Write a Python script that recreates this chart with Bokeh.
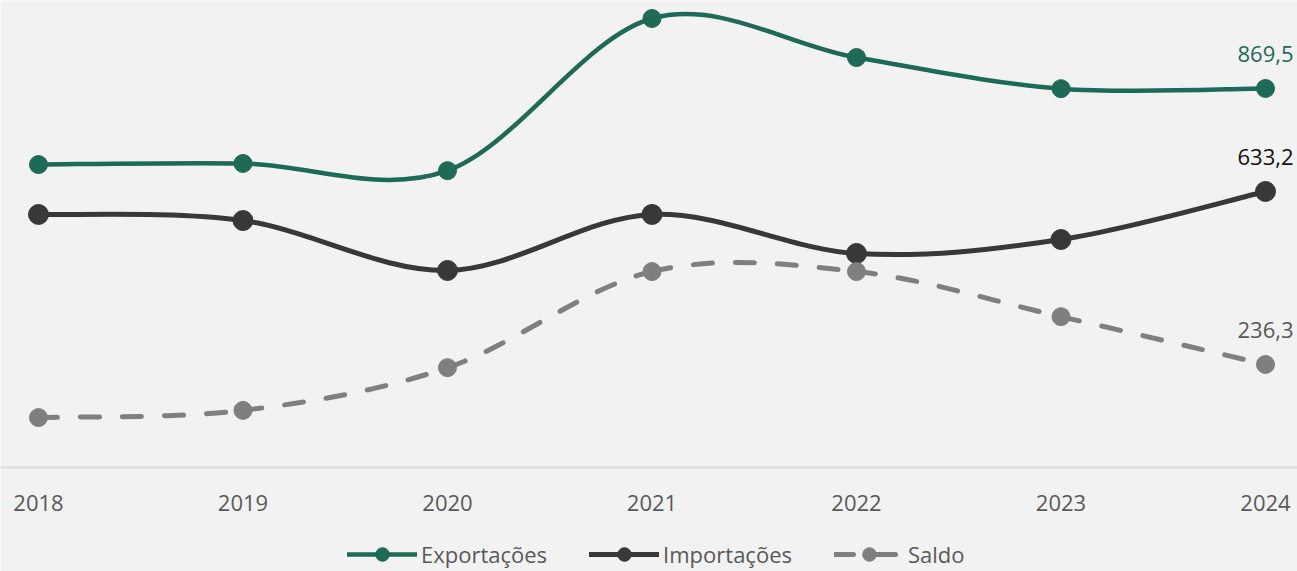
from bokeh.plotting import figure
from bokeh.models import Legend, LegendItem, ColumnDataSource, FixedTicker, Range1d
from bokeh.embed import file_html
from bokeh.resources import INLINE
from bokeh.core.properties import value

years = [2018, 2019, 2020, 2021, 2022, 2023, 2024]
exportacoes = [695.0, 697.5, 681.0, 1030.0, 940.5, 869.0, 869.5]
importacoes = [580.5, 566.5, 452.0, 580.5, 491.0, 523.0, 633.2]
saldo = [114.5, 131.0, 229.0, 449.5, 449.5, 346.0, 236.3]
labels = ["869,5", "633,2", "236,3"]

FONT = "Open Sans"
BG = "#f2f2f2"
W, H = 1297, 571

p = figure(width=W, height=H, output_backend="svg", toolbar_location=None,
           x_range=Range1d(2017.8142, 2024.1565), y_range=Range1d(-238.6, 1071.3),
           background_fill_color=BG, border_fill_color=BG,
           min_border_left=0, min_border_right=0, min_border_top=0, min_border_bottom=0,
           outline_line_color=None)
p.grid.visible = False
p.yaxis.visible = False

xa = p.xaxis[0]
xa.fixed_location = 0
xa.ticker = FixedTicker(ticks=years)
xa.axis_line_color = "#d9d9d9"
xa.axis_line_width = 2
xa.major_tick_line_color = None
xa.minor_tick_line_color = None
xa.major_label_text_font = FONT
xa.major_label_text_font_size = "22px"
xa.major_label_text_color = "#595959"
xa.major_label_standoff = 22


def smooth_segments(xs, ys):
    n = len(xs)
    segs = dict(x0=[], y0=[], x1=[], y1=[], cx0=[], cy0=[], cx1=[], cy1=[])
    for i in range(n - 1):
        p0 = (xs[max(i - 1, 0)], ys[max(i - 1, 0)])
        p1 = (xs[i], ys[i])
        p2 = (xs[i + 1], ys[i + 1])
        p3 = (xs[min(i + 2, n - 1)], ys[min(i + 2, n - 1)])
        segs["x0"].append(p1[0]); segs["y0"].append(p1[1])
        segs["x1"].append(p2[0]); segs["y1"].append(p2[1])
        segs["cx0"].append(p1[0] + (p2[0] - p0[0]) / 6)
        segs["cy0"].append(p1[1] + (p2[1] - p0[1]) / 6)
        segs["cx1"].append(p2[0] - (p3[0] - p1[0]) / 6)
        segs["cy1"].append(p2[1] - (p3[1] - p1[1]) / 6)
    return ColumnDataSource(segs)


series = [
    ("Exportações", exportacoes, "#1d6a56", 4.5, None, 18),
    ("Importações", importacoes, "#383838", 5, None, 20),
    ("Saldo", saldo, "#7f7f7f", 5, "19 23", 18),
]

items = []
for name, ys, color, lw, dash, msize in series:
    src = smooth_segments(years, ys)
    kw = dict(line_color=color, line_width=lw, line_cap="round")
    if dash:
        kw["line_dash"] = dash
    b = p.bezier(x0="x0", y0="y0", x1="x1", y1="y1", cx0="cx0", cy0="cy0",
                 cx1="cx1", cy1="cy1", source=src, **kw)
    s = p.scatter(years, ys, size=msize, fill_color=color, line_color=color)
    items.append(LegendItem(label=name, renderers=[b, s]))

label_colors = ["#1d6a56", "#111111", "#595959"]
last_vals = [exportacoes[-1], importacoes[-1], saldo[-1]]
p.text(x=[years[-1]] * 3, y=last_vals, text=labels, text_color=label_colors,
       text_font=value(FONT), text_font_size="22px", text_align="center",
       text_baseline="middle", y_offset=-34)

legend = Legend(items=items, orientation="horizontal", location=(347, 0),
                glyph_width=70, glyph_height=34, label_text_font=FONT,
                label_text_font_size="22px", label_text_color="#595959",
                background_fill_alpha=0, border_line_color=None,
                spacing=42, label_standoff=4, padding=0, margin=0)
p.add_layout(legend)

open("out.html", "w").write(file_html(p, INLINE))
